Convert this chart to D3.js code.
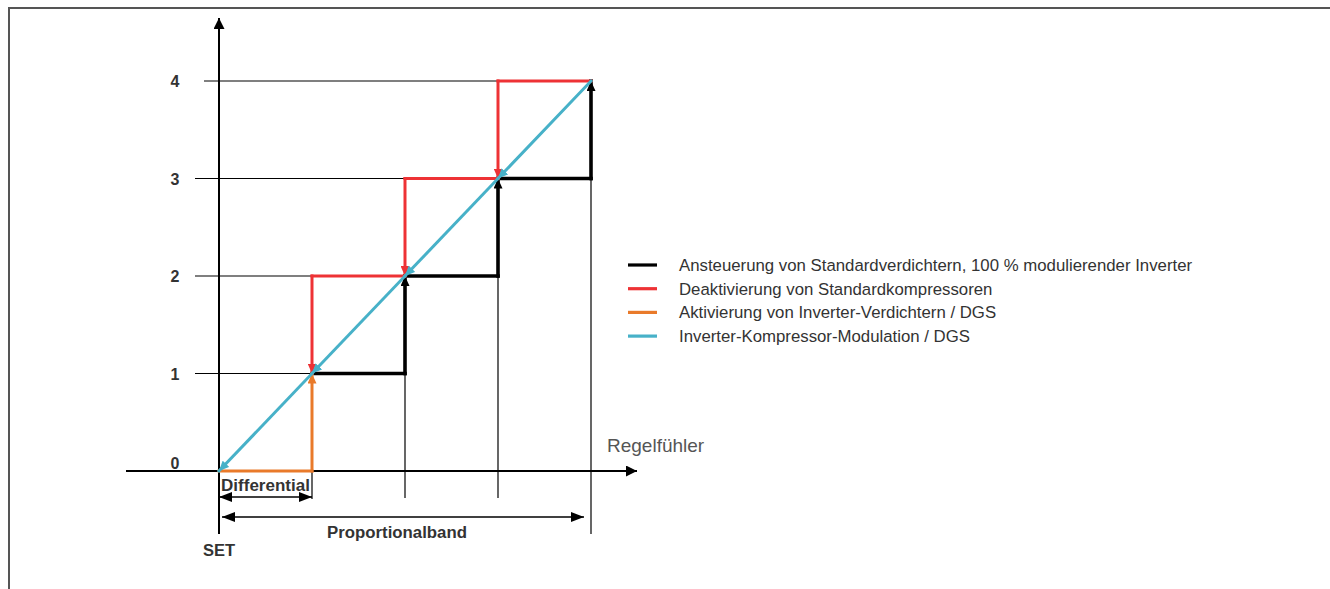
<!DOCTYPE html>
<html>
<head>
<meta charset="utf-8">
<script src="https://cdn.jsdelivr.net/npm/d3@7"></script>
<style>
  html, body { margin: 0; padding: 0; background: #fff; }
  svg { display: block; }
  text { font-family: "Liberation Sans", Arial, sans-serif; }
</style>
</head>
<body>
<svg id="chart" width="1330" height="589"></svg>
<script>
// Stage levels (compressor steps) and their switching points along the sensor axis
const levels = [0, 1, 2, 3, 4];
const tickLabels = ["0", "1", "2", "3", "4"];

// Activation of standard compressors: steps upward starting at stage 1
const blackSteps = [[1, 1], [2, 1], [2, 2], [3, 2], [3, 3], [4, 3], [4, 4]];
// Deactivation of standard compressors: steps downward from stage 4
const redSteps = [[4, 4], [3, 4], [3, 3], [2, 3], [2, 2], [1, 2], [1, 1]];
// Inverter activation: along zero, then up to stage 1
const orangeSteps = [[0, 0], [1, 0], [1, 1]];
// Inverter modulation: diagonal from full load down to the set point
const cyanSteps = [[4, 4], [3, 3], [2, 2], [1, 1], [0, 0]];

const legendItems = [
  { label: "Ansteuerung von Standardverdichtern, 100 % modulierender Inverter", color: "#000000" },
  { label: "Deaktivierung von Standardkompressoren", color: "#ee3235" },
  { label: "Aktivierung von Inverter-Verdichtern / DGS", color: "#e97a2a" },
  { label: "Inverter-Kompressor-Modulation / DGS", color: "#47b1c8" }
];

const svg = d3.select("#chart");

const x = d3.scaleLinear().domain([0, 4]).range([219, 591]);
const y = d3.scaleLinear().domain([0, 4]).range([471, 81]);

// Outer frame (top and left edges)
svg.append("path")
  .attr("d", "M9,589 L9,8 L1330,8")
  .attr("fill", "none").attr("stroke", "#555").attr("stroke-width", 2);

// Arrowhead markers
const defs = svg.append("defs");
function marker(id, color, len, half) {
  defs.append("marker")
    .attr("id", id)
    .attr("markerUnits", "userSpaceOnUse")
    .attr("viewBox", `0 ${-half} ${len} ${half * 2}`)
    .attr("refX", len).attr("refY", 0)
    .attr("markerWidth", len).attr("markerHeight", half * 2)
    .attr("orient", "auto-start-reverse")
    .append("path")
    .attr("d", `M0,${-half} L${len},0 L0,${half} Z`)
    .attr("fill", color);
}
marker("axisArrow", "#000", 11, 5.5);
marker("dimArrow", "#000", 13, 5);
marker("blackArrow", "#000", 10, 4.5);
marker("redArrow", legendItems[1].color, 10, 4.5);
marker("orangeArrow", legendItems[2].color, 10, 4.5);
marker("cyanArrow", legendItems[3].color, 10, 4.5);

const thin = svg.append("g").attr("stroke", "#000").attr("stroke-width", 1.2);

// Horizontal reference lines for each stage
levels.filter(v => v > 0).forEach(v => {
  thin.append("line")
    .attr("x1", v === 4 ? 204 : 195).attr("x2", x(v))
    .attr("y1", y(v)).attr("y2", y(v));
});

// Vertical reference lines at each switching point
thin.append("line").attr("x1", x(1)).attr("x2", x(1)).attr("y1", y(0)).attr("y2", 499);
[2, 3].forEach(v => {
  thin.append("line").attr("x1", x(v)).attr("x2", x(v)).attr("y1", y(v)).attr("y2", 498);
});
thin.append("line").attr("x1", x(4)).attr("x2", x(4)).attr("y1", y(4)).attr("y2", 534);

// Axes
svg.append("line")
  .attr("x1", x(0)).attr("x2", x(0)).attr("y1", 534).attr("y2", 18)
  .attr("stroke", "#000").attr("stroke-width", 2)
  .attr("marker-end", "url(#axisArrow)");
svg.append("line")
  .attr("x1", 126).attr("x2", 637).attr("y1", y(0)).attr("y2", y(0))
  .attr("stroke", "#000").attr("stroke-width", 2)
  .attr("marker-end", "url(#axisArrow)");

// Stage tick labels
svg.append("g").selectAll("text")
  .data(levels)
  .join("text")
  .attr("x", 175)
  .attr("y", d => d === 0 ? y(d) - 2 : y(d) + 6)
  .attr("text-anchor", "middle")
  .attr("font-size", 16).attr("font-weight", "bold").attr("fill", "#333")
  .text((d, i) => tickLabels[i]);

// Step series drawn as segments, each ending in an arrowhead where it switches stage
function drawSegments(points, color, width, markerId, arrowAt) {
  const g = svg.append("g");
  for (let i = 0; i < points.length - 1; i++) {
    const [a, b] = [points[i], points[i + 1]];
    g.append("line")
      .attr("x1", x(a[0])).attr("y1", y(a[1]))
      .attr("x2", x(b[0])).attr("y2", y(b[1]))
      .attr("stroke", color).attr("stroke-width", width)
      .attr("stroke-linecap", "square")
      .attr("marker-end", arrowAt(a, b) ? `url(#${markerId})` : null);
  }
}
const vertical = (a, b) => a[0] === b[0];
drawSegments(blackSteps, legendItems[0].color, 3.6, "blackArrow", vertical);
drawSegments(redSteps, legendItems[1].color, 3, "redArrow", vertical);
drawSegments(orangeSteps, legendItems[2].color, 3, "orangeArrow", vertical);
drawSegments(cyanSteps, legendItems[3].color, 3, "cyanArrow", () => true);

// Differential and proportional band dimension arrows
svg.append("line")
  .attr("x1", x(0)).attr("x2", x(1)).attr("y1", 497).attr("y2", 497)
  .attr("stroke", "#000").attr("stroke-width", 1.5)
  .attr("marker-start", "url(#dimArrow)").attr("marker-end", "url(#dimArrow)");
svg.append("line")
  .attr("x1", 222).attr("x2", 584).attr("y1", 517).attr("y2", 517)
  .attr("stroke", "#000").attr("stroke-width", 1.5)
  .attr("marker-start", "url(#dimArrow)").attr("marker-end", "url(#dimArrow)");

function label(txt, px, py, size) {
  svg.append("text")
    .attr("x", px).attr("y", py).attr("text-anchor", "middle")
    .attr("font-size", size).attr("font-weight", "bold").attr("fill", "#333")
    .text(txt);
}
label("Differential", (x(0) + x(1)) / 2, 491, 17);
label("Proportionalband", 397, 538, 16.8);
label("SET", 219, 556, 16.5);

svg.append("text")
  .attr("x", 607).attr("y", 452)
  .attr("font-family", "Lato, 'Open Sans', sans-serif")
  .attr("font-size", 19).attr("fill", "#555")
  .text("Regelfühler");

// Legend
const legend = svg.append("g").attr("transform", "translate(628,265)");
const rows = legend.selectAll("g")
  .data(legendItems)
  .join("g")
  .attr("transform", (d, i) => `translate(0,${i * 23.7})`);
rows.append("line")
  .attr("x1", 0).attr("x2", 29).attr("y1", 0).attr("y2", 0)
  .attr("stroke", d => d.color).attr("stroke-width", 3.2);
rows.append("text")
  .attr("x", 51).attr("y", 6)
  .attr("font-size", 16.8).attr("fill", "#333")
  .text(d => d.label);
</script>
</body>
</html>
